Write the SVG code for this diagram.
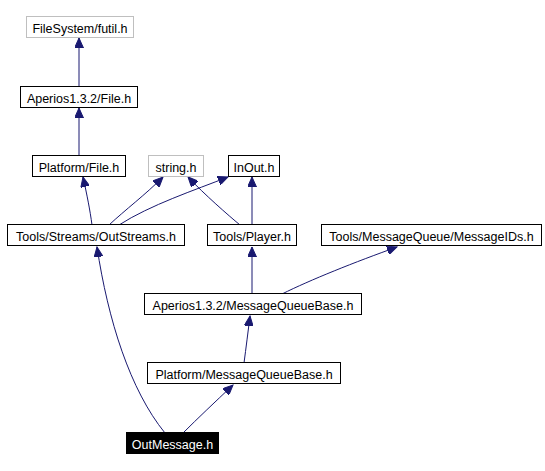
<svg xmlns="http://www.w3.org/2000/svg" width="545" height="471" viewBox="0 0 545 471">
<defs>
<style>
.n rect{fill:#fff;stroke:#000;stroke-width:1}
.n.g rect{stroke:#bfbfbf}
.n.h rect{fill:#000}
.n text{font-family:"Liberation Sans",Arial,sans-serif;font-size:12.5px;text-anchor:middle;fill:#000}
.n.h text{fill:#fff}
.e path{fill:none;stroke:#191970;stroke-width:1;marker-end:url(#ah)}
</style>
<marker id="ah" markerUnits="userSpaceOnUse" markerWidth="11" markerHeight="9" refX="10" refY="4.5" orient="auto">
<path d="M0,0 L10,4.5 L0,9 z" fill="#191970" stroke="#191970" stroke-width="1"/>
</marker>
</defs>
<rect width="545" height="471" fill="#fff"/>
<g id="edges" class="e">
<path d="M79,87 L79,38"/>
<path d="M79,156 L79,108"/>
<path d="M92,225 C90,210 87,195 83,177"/>
<path d="M109,225 C125,210 145,195 163,177"/>
<path d="M119,225 C150,205 195,190 228,177"/>
<path d="M240,225 C228,215 205,195 188,177"/>
<path d="M252,225 L252,177"/>
<path d="M252,294 L252,247"/>
<path d="M282,294 C310,280 355,262 397,247"/>
<path d="M244,363 C246,348 248,332 250,316"/>
<path d="M183,433 C198,418 215,402 233,385"/>
<path d="M165,433 C130,390 108,320 97,247"/>
</g>
<g id="futil" class="n g"><rect x="26.5" y="16.5" width="107" height="21"/><text x="80" y="33">FileSystem/futil.h</text></g>
<g id="aperiosFile" class="n"><rect x="20.5" y="86.5" width="117" height="21"/><text x="79" y="103">Aperios1.3.2/File.h</text></g>
<g id="platformFile" class="n"><rect x="32.5" y="155.5" width="93" height="21"/><text x="79" y="172">Platform/File.h</text></g>
<g id="string" class="n g"><rect x="148.5" y="155.5" width="55" height="21"/><text x="176" y="172">string.h</text></g>
<g id="inout" class="n"><rect x="228.5" y="155.5" width="51" height="21"/><text x="254" y="172">InOut.h</text></g>
<g id="outStreams" class="n"><rect x="7.5" y="224.5" width="177" height="21"/><text x="96" y="241">Tools/Streams/OutStreams.h</text></g>
<g id="player" class="n"><rect x="207.5" y="224.5" width="89" height="21"/><text x="252" y="241">Tools/Player.h</text></g>
<g id="messageIDs" class="n"><rect x="321.5" y="224.5" width="220" height="21"/><text x="431.5" y="241">Tools/MessageQueue/MessageIDs.h</text></g>
<g id="aperiosMQB" class="n"><rect x="144.5" y="293.5" width="217" height="21"/><text x="253" y="310">Aperios1.3.2/MessageQueueBase.h</text></g>
<g id="platformMQB" class="n"><rect x="147.5" y="362.5" width="193" height="21"/><text x="244" y="379">Platform/MessageQueueBase.h</text></g>
<g id="outMessage" class="n h"><rect x="126.5" y="432.5" width="92" height="21"/><text x="172.5" y="449">OutMessage.h</text></g>
</svg>
